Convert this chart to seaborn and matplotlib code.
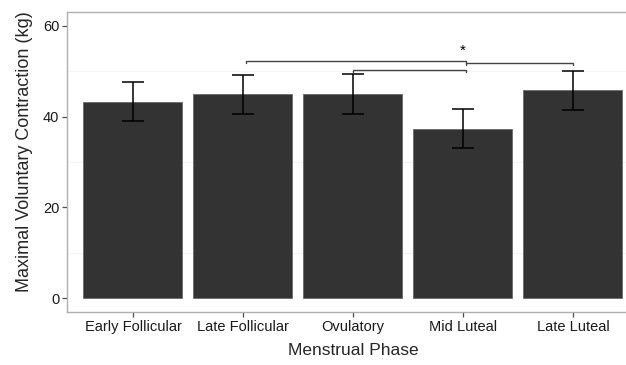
import numpy as np
import pandas as pd
import matplotlib
matplotlib.use("Agg")
import matplotlib.pyplot as plt
import seaborn as sns

# Data
phases = ["Early Follicular", "Late Follicular", "Ovulatory", "Mid Luteal", "Late Luteal"]
mvc_mean = [43.3, 44.9, 44.9, 37.3, 45.8]
mvc_err = [4.3, 4.3, 4.4, 4.3, 4.3]

# significance brackets: (from phase, to phase, height)
bracket_from = ["Late Follicular", "Ovulatory", "Mid Luteal"]
bracket_to = ["Mid Luteal", "Mid Luteal", "Late Luteal"]
bracket_y = [52.3, 50.3, 51.8]
star_phase = "Mid Luteal"
star_y = 54.4

df = pd.DataFrame({"phase": phases, "mvc": mvc_mean, "err": mvc_err})

sns.set_style("white")
plt.rcParams["font.family"] = ["Liberation Sans", "DejaVu Sans"]

fig = plt.figure(figsize=(6.26, 3.65), dpi=100)
ax = fig.add_axes([0.107, 0.1452, 0.9137, 0.8219])

sns.barplot(data=df, x="phase", y="mvc", order=phases, color="#333333",
            width=0.9, errorbar=None, saturation=1, edgecolor="#6a6a6a",
            linewidth=0.6, ax=ax, zorder=2)

xpos = np.arange(len(phases))
ax.errorbar(xpos, df["mvc"], yerr=df["err"], fmt="none", ecolor="black",
            elinewidth=1.1, capsize=7.6, capthick=1.1, zorder=3)

# brackets
idx = {p: i for i, p in enumerate(phases)}
drop = 0.45
for a, b, h in zip(bracket_from, bracket_to, bracket_y):
    x0 = idx[a] if a == "Ovulatory" else idx[a] + 0.03
    x1 = idx[b] if b == "Late Luteal" else idx[b] + 0.03
    ax.plot([x0, x0, x1, x1], [h - drop, h, h, h - drop], color="#444444",
            lw=1.0, zorder=3, solid_joinstyle="miter")
ax.text(idx[star_phase], star_y, "*", ha="center", va="center", fontsize=11,
        color="black")

ax.set_xlim(-0.6, 4.6)
ax.set_ylim(-3, 63)
ax.set_yticks([0, 20, 40, 60])
ax.set_yticks([10, 30, 50], minor=True)
ax.grid(which="minor", axis="y", color="#f4f4f4", lw=0.8, zorder=0)
ax.set_axisbelow(True)

for side in ["left", "bottom", "top"]:
    ax.spines[side].set_color("#b0b0b0")
    ax.spines[side].set_linewidth(1.0)
ax.spines["right"].set_visible(False)

ax.tick_params(axis="both", which="major", direction="out", length=3.5,
               width=0.9, color="#4d4d4d", labelsize=10.5, labelcolor="#1a1a1a",
               pad=2, left=True, bottom=True)
ax.tick_params(which="minor", length=0)

ax.set_xlabel("Menstrual Phase", fontsize=12.5, labelpad=7)
ax.set_ylabel("Maximal Voluntary Contraction (kg)", fontsize=13, labelpad=6)
ax.yaxis.set_label_coords(-0.060, 0.533)

fig.savefig("out.png", dpi=100)
